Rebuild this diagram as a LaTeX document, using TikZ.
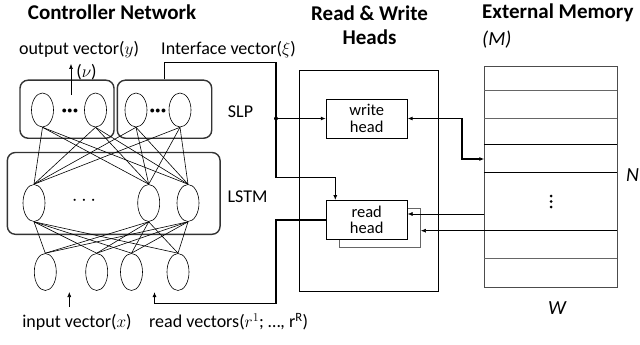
\documentclass[tikz,border=0pt]{standalone}
\usepackage{fontspec}
\setmainfont{Carlito}
\usetikzlibrary{shapes.geometric,arrows.meta}

\newcommand{\bodyfont}{\fontsize{18}{19}\selectfont}
\newcommand{\titlefont}{\fontsize{21}{24}\selectfont\bfseries}
\newcommand{\headfont}{\fontsize{16.5}{16.5}\selectfont}

\tikzset{
  neuron/.style={draw, ellipse, minimum width=22pt, minimum height=36pt, inner sep=0pt, line width=0.6pt},
  layerbox/.style={draw=black!80, rounded corners=8pt, line width=1.4pt, inner sep=0pt},
  headbox/.style={draw, minimum width=81pt, minimum height=39pt, fill=white, align=center, inner sep=0pt, font=\headfont, line width=0.8pt},
  lbl/.style={font=\bodyfont, inner sep=0pt},
  ttl/.style={font=\titlefont, align=center, inner sep=0pt},
  arr/.style={-{Latex[length=5pt,width=4pt]}},
  bus/.style={line width=1.2pt},
  wire/.style={line width=0.6pt},
}

\begin{document}
\begin{tikzpicture}[x=1pt, y=-1pt]
  \useasboundingbox (0,0) rectangle (640,345);

  % titles
  \node[ttl] (tctrl) at (112,12) {Controller Network};
  \node[ttl] (theads) at (369.5,25) {Read \& Write\\Heads};
  \node[ttl, anchor=west] (tmem) at (482,13) {External Memory};
  \node[lbl, anchor=west] (tM) at (482,40) {\fontsize{20}{20}\selectfont\itshape (M)};

  % controller layers
  \node[layerbox, minimum width=94pt, minimum height=58pt] (outbox) at (67,109.2) {};
  \node[layerbox, minimum width=94.4pt, minimum height=58pt] (ifbox) at (164.5,109.2) {};
  \node[layerbox, minimum width=212.7pt, minimum height=81.8pt] (lstmbox) at (113.7,193.4) {};

  \node[neuron, minimum height=34pt] (o1) at (42.5,110) {};
  \node[neuron, minimum height=34pt] (o2) at (95.5,110) {};
  \node[neuron, minimum height=34pt] (v1) at (136,110) {};
  \node[neuron, minimum height=34pt] (v2) at (180,110) {};
  \node (odots) at (70,111) {\fontsize{10}{10}\selectfont$\bullet\!\bullet\!\bullet$};
  \node (vdots) at (158,111) {\fontsize{10}{10}\selectfont$\bullet\!\bullet\!\bullet$};

  \node[neuron, minimum height=37pt] (l1) at (34,203) {};
  \node[neuron, minimum height=37pt] (l2) at (148.7,203) {};
  \node[neuron, minimum height=37pt] (l3) at (188,203) {};
  \node (ldots) at (84,201) {\fontsize{22}{22}\selectfont$\cdots$};

  \node[neuron, minimum height=37pt] (x1) at (45.3,272) {};
  \node[neuron, minimum height=37pt] (x2) at (96.7,272) {};
  \node[neuron, minimum height=37pt] (x3) at (131.5,272) {};
  \node[neuron, minimum height=37pt] (x4) at (178,272) {};

  \foreach \a in {o1,o2,v1,v2}
    \foreach \b in {l1,l2,l3}
      \draw[wire] (\a.south) to (\b.north);
  \foreach \a in {l1,l2,l3}
    \foreach \b in {x1,x2,x3,x4}
      \draw[wire] (\a.south) to (\b.north);

  \node[lbl] (slp) at (240.5,112) {SLP};
  \node[lbl] (lstm) at (247.5,197) {LSTM};

  % controller labels
  \node[lbl] (yout) at (79,49.5) {output vector($y$)};
  \node[lbl] (xiout) at (228.5,49.5) {Interface vector($\xi$)};
  \node[lbl] (nu) at (86.5,72) {($\nu$)};
  \node[lbl] (xin) at (77,322) {input vector($x$)};
  \node[lbl, anchor=west] (rin) at (149,322) {read vectors($r^1$; \dots, $\mathrm{r}^{\mathrm{R}}$)};

  \coordinate (ytail) at (71,95);
  \coordinate (ytip) at (71,64);
  \draw[wire, arr] (ytail) to (ytip);
  \coordinate (xtail) at (69.3,307);
  \coordinate (xtip) at (69.3,292);
  \draw[wire, arr] (xtail) to (xtip);

  % heads
  \node[draw, line width=0.8pt, minimum width=139pt, minimum height=221pt] (heads) at (368.8,180.5) {};
  \node[headbox] (write) at (366.7,118.5) {write\\head};
  \node[headbox, draw=black!60] (readb) at (380,228.3) {};
  \node[headbox] (read) at (366.7,220) {read\\head};

  % memory
  \node[draw=black!70, line width=0.8pt, minimum width=132.7pt, minimum height=220.6pt] (mem) at (550.7,177) {};
  \foreach \y in {90.3,118.3,258.3}
    \draw[black!60, line width=0.8pt] (mem.west |- 0,\y) to (mem.east |- 0,\y);
  \foreach \y in {144.3,172.3,230}
    \draw[line width=0.8pt] (mem.west |- 0,\y) to (mem.east |- 0,\y);
  \foreach \y in {196,201.5,207}
    \fill (551,\y) circle (1.5pt);
  \node[lbl, anchor=west] (nlbl) at (626,175) {\fontsize{20}{20}\selectfont\itshape N};
  \node[lbl] (wlbl) at (557,308) {\fontsize{20}{20}\selectfont\itshape W};

  % interface vector to heads
  \coordinate (ifturn) at (276,62.3);
  \coordinate (jn) at (276,118.5);
  \coordinate (ifbend) at (276,177.5);
  \coordinate (rtop) at ([xshift=9.5pt]read.north west);
  \draw[bus, arr] (ifbox.north) |- (ifturn) to (ifbend) -| (rtop);
  \draw[bus, arr] (jn) to (write.west);
  \fill (jn) circle (2pt);

  % read head back to controller
  \coordinate (rdturn) at (276,303.5);
  \coordinate (rdtip) at (154.5,292);
  \draw[bus, arr] (read.west) -| (rdturn) -| (rdtip);

  % memory access
  \coordinate (wbend) at (462,159);
  \coordinate (wmem) at (484.3,159);
  \draw[line width=1.6pt, {Latex[length=5pt,width=4pt]}-{Latex[length=5pt,width=4pt]}] (write.east) -| (wbend) to (wmem);
  \coordinate (m1) at (484.3,214);
  \coordinate (m2) at (484.3,230.7);
  \draw[wire, arr] (m1) to (read.east |- m1);
  \draw[wire, arr] (m2) to (readb.east |- m2);
\end{tikzpicture}
\end{document}
